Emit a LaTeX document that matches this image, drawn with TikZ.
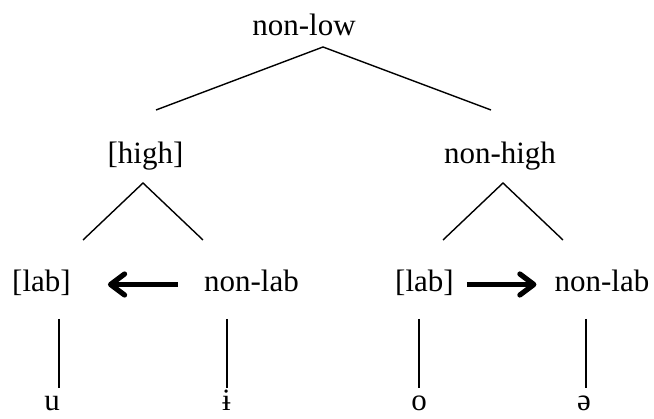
\documentclass[tikz,border=0pt]{standalone}
\usepackage{fontspec}
\setmainfont{Liberation Serif}
\usetikzlibrary{arrows.meta}
\begin{document}
\begin{tikzpicture}[x=1pt,y=-1pt,
  lbl/.style={inner sep=0pt,anchor=base,font=\fontsize{31}{37}\selectfont,text height=21.5pt,text depth=6.5pt},
  leaf/.style={lbl,text height=15pt,text depth=0pt},
  branch/.style={line width=1.4pt},
  bigarrow/.style={line width=5.2pt,-{Straight Barb[length=14pt,width=21pt,line cap=round,line join=round]}}]
\useasboundingbox (0,0) rectangle (654,419);
% text
\node[lbl] (nonlow) at (304,36) {non-low};
\node[lbl] (high) at (145.5,164) {[high]};
\node[lbl] (nonhigh) at (500,164) {non-high};
\node[lbl] (labL) at (41.5,292) {[lab]};
\node[lbl] (nlabL) at (251.5,292) {non-lab};
\node[lbl] (labR) at (424.5,292) {[lab]};
\node[lbl] (nlabR) at (602,292) {non-lab};
\node[leaf] (u) at (52,411) {u};
\node[leaf] (i) at (226.5,411) {ɨ};
\node[leaf] (o) at (419,411) {o};
\node[leaf] (schwa) at (584,411) {ə};
% branch points
\coordinate (a0) at (323,47);
\coordinate (a1) at (156,110);
\coordinate (a2) at (491,110);
\coordinate (b0) at (143,183);
\coordinate (b1) at (83,240);
\coordinate (b2) at (203,240);
\coordinate (c0) at (503,183);
\coordinate (c1) at (443,240);
\coordinate (c2) at (563,240);
\coordinate (d1t) at (59,319);  \coordinate (d1b) at (59,388);
\coordinate (d2t) at (227,319); \coordinate (d2b) at (227,388);
\coordinate (d3t) at (419,319); \coordinate (d3b) at (419,388);
\coordinate (d4t) at (586,319); \coordinate (d4b) at (586,388);
\draw[branch] (a1) -- (a0) -- (a2);
\draw[branch] (b1) -- (b0) -- (b2);
\draw[branch] (c1) -- (c0) -- (c2);
\draw[branch] (d1t) -- (d1b);
\draw[branch] (d2t) -- (d2b);
\draw[branch] (d3t) -- (d3b);
\draw[branch] (d4t) -- (d4b);
% arrows
\draw[bigarrow,shorten <=26pt,shorten >=37pt] (nlabL.west) -- (labL.east);
\draw[bigarrow,shorten <=13pt,shorten >=18pt] (labR.east) -- (nlabR.west);
\end{tikzpicture}
\end{document}
